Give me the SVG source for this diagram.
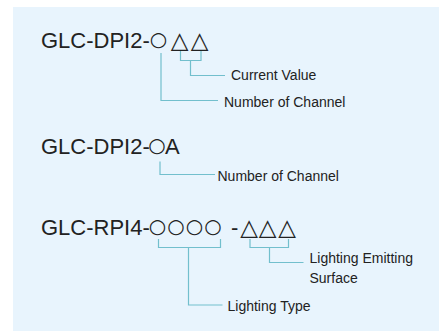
<svg xmlns="http://www.w3.org/2000/svg" width="439" height="331" viewBox="0 0 439 331">
<defs>
<style>
.title{font-family:"Liberation Sans",Arial,sans-serif;font-size:22px;fill:#222;}
.sym{font-family:"DejaVu Sans",sans-serif;text-anchor:middle;}
.circ{font-size:20px;}
.tri{font-size:23px;}
.lbl{font-family:"Liberation Sans",Arial,sans-serif;font-size:14px;fill:#222;}
.conn{fill:none;stroke:#72BFCD;stroke-width:1.2;}
</style>
</defs>
<rect x="0" y="0" width="439" height="331" fill="#FFFFFF"/>
<rect x="13" y="7" width="426" height="324" fill="#E8F4FD"/>

<g id="code1">
<text class="title" x="41" y="48">GLC-DPI2-<tspan class="sym circ" x="158.5" y="45.8">○</tspan><tspan class="sym tri" x="179.5" y="48">△</tspan><tspan class="sym tri" x="199.5" y="48">△</tspan></text>
</g>
<g id="label-current-value">
<text class="lbl" x="231" y="79.5">Current Value</text>
</g>
<g id="label-channel-1">
<text class="lbl" x="224" y="106.5">Number of Channel</text>
</g>

<g id="code2">
<text class="title" x="41" y="154">GLC-DPI2-<tspan class="sym circ" x="157" y="151.8">○</tspan><tspan x="165" y="154">A</tspan></text>
</g>
<g id="label-channel-2">
<text class="lbl" x="217.5" y="181">Number of Channel</text>
</g>

<g id="code3">
<text class="title" x="41" y="235">GLC-RPI4-<tspan class="sym circ" x="157.5" y="232.8">○</tspan><tspan class="sym circ" x="176" y="232.8">○</tspan><tspan class="sym circ" x="194.5" y="232.8">○</tspan><tspan class="sym circ" x="213" y="232.8">○</tspan><tspan x="231" y="235">-</tspan><tspan class="sym tri" x="249" y="235">△</tspan><tspan class="sym tri" x="267.5" y="235">△</tspan><tspan class="sym tri" x="287" y="235">△</tspan></text>
</g>
<g id="label-surface">
<text class="lbl" x="309.5" y="263">Lighting Emitting</text>
<text class="lbl" x="309.5" y="282.5">Surface</text>
</g>
<g id="label-type">
<text class="lbl" x="227.5" y="310.5">Lighting Type</text>
</g>

<g id="connectors">
<path class="conn" d="M161,53 V100.5 H218"/>
<path class="conn" d="M180.5,51 V60.5 H201 V51"/>
<path class="conn" d="M190.5,60.5 V75.5 H225"/>
<path class="conn" d="M160,161.5 V174.5 H215"/>
<path class="conn" d="M158.5,239 V247.5 H220.5 V239"/>
<path class="conn" d="M188.5,247.5 V305 H222.5"/>
<path class="conn" d="M250,239 V247.5 H288.5 V239"/>
<path class="conn" d="M269.5,247.5 V262.5 H303.5"/>
</g>
</svg>
